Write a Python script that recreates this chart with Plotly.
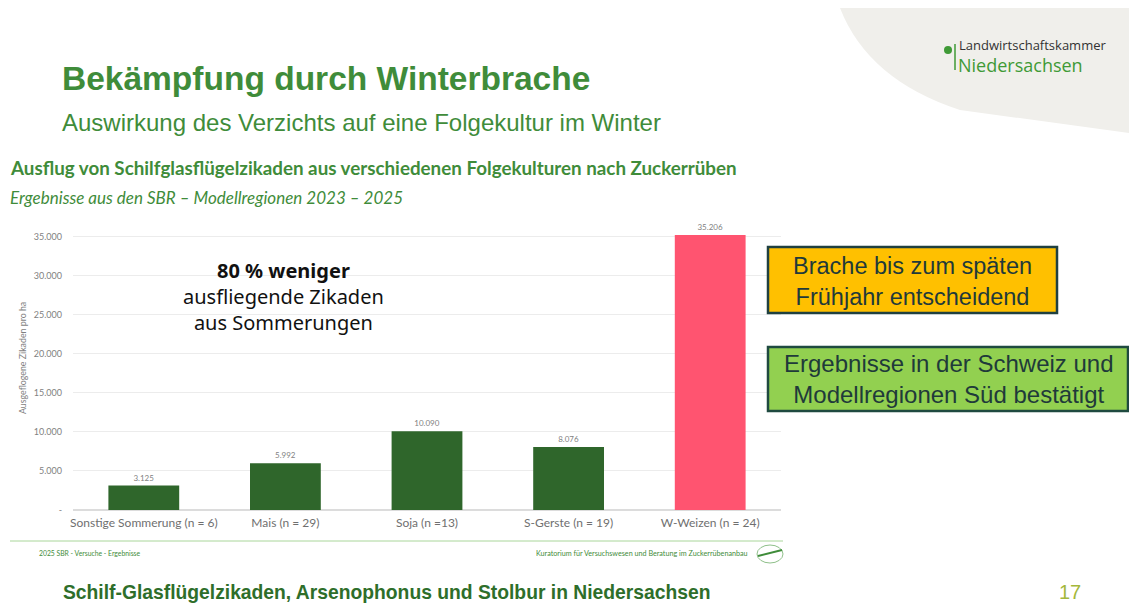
import plotly.graph_objects as go

# data
kulturen = ["Sonstige Sommerung (n = 6)", "Mais (n = 29)", "Soja (n =13)",
            "S-Gerste (n = 19)", "W-Weizen (n = 24)"]
zikaden = [3125, 5992, 10090, 8076, 35206]
bar_labels = ["3.125", "5.992", "10.090", "8.076", "35.206"]
bar_colors = ["#2f662b", "#2f662b", "#2f662b", "#2f662b", "#ff5470"]
y_ticks = [0, 5000, 10000, 15000, 20000, 25000, 30000, 35000]
y_ticktext = ["-", "5.000", "10.000", "15.000", "20.000", "25.000", "30.000", "35.000"]

W, H = 1129, 603
L, R, T, B = 73, 1129 - 781, 221, 603 - 510
PW, PH = W - L - R, H - T - B


def X(px):
    return (px - L) / PW


def Y(py):
    return (H - B - py) / PH


GREEN = "#3f8c3a"
GRAY = "#7f7f7f"

fig = go.Figure(go.Bar(
    x=list(range(len(kulturen))), y=zikaden,
    marker=dict(color=bar_colors, line=dict(width=0)),
    width=0.5,
    text=bar_labels, textposition="outside",
    textfont=dict(size=8, color=GRAY, family="Lato"),
    cliponaxis=False, hoverinfo="skip"))

fig.update_xaxes(
    range=[-0.5, 4.5], tickvals=list(range(len(kulturen))), ticktext=kulturen,
    tickfont=dict(size=12, color="#6f6f6f", family="Lato"),
    showgrid=False, zeroline=False, showline=False, ticks="",
    ticklabelstandoff=4)
fig.update_yaxes(
    range=[0, 37000], tickvals=y_ticks, ticktext=y_ticktext,
    tickfont=dict(size=9, color=GRAY, family="Lato"),
    showgrid=True, gridcolor="#ececec", gridwidth=1,
    zeroline=True, zerolinecolor="#dcdcdc", showline=False,
    ticklabelstandoff=10)

shapes = [
    # grey curved corner top right
    dict(type="path", xref="paper", yref="paper", layer="below",
         path=f"M {X(840)},{Y(8)} L {X(1129)},{Y(8)} L {X(1129)},{Y(133)} "
              f"L {X(960)},{Y(110)} Q {X(868)},{Y(80)} {X(840)},{Y(8)} Z",
         fillcolor="#f0efeb", line=dict(width=0)),
    # footer line
    dict(type="line", xref="paper", yref="paper", x0=X(10), x1=X(783),
         y0=Y(541), y1=Y(541), line=dict(color="#a9d69a", width=1)),
    # footer logo
    dict(type="circle", xref="paper", yref="paper", x0=X(757), x1=X(783),
         y0=Y(545), y1=Y(563), fillcolor="white", line=dict(color="#8fc08a", width=1)),
    dict(type="line", xref="paper", yref="paper", x0=X(758), x1=X(782),
         y0=Y(556), y1=Y(550), line=dict(color="#3f8c3a", width=2)),
    # boxes
    dict(type="rect", xref="paper", yref="paper", x0=X(768), x1=X(1057),
         y0=Y(247), y1=Y(313), fillcolor="#ffc000",
         line=dict(color="#1f4040", width=2.5)),
    dict(type="rect", xref="paper", yref="paper", x0=X(768), x1=X(1128),
         y0=Y(347), y1=Y(411), fillcolor="#92d050",
         line=dict(color="#1f4a40", width=2.5)),
    # logo dot
    dict(type="circle", xref="paper", yref="paper", x0=X(944), x1=X(952),
         y0=Y(46), y1=Y(54), fillcolor="#3f9a36", line=dict(width=0)),
    dict(type="line", xref="paper", yref="paper", x0=X(955), x1=X(955),
         y0=Y(44), y1=Y(70), line=dict(color="#3f9a36", width=1.5)),
]


def note(text, px, py, size, color, family="Liberation Sans", xanchor="left",
         align="left", angle=0):
    return dict(text=text, x=X(px), y=Y(py), xref="paper", yref="paper",
                xanchor=xanchor, yanchor="middle", align=align, showarrow=False,
                textangle=angle, font=dict(size=size, color=color, family=family))


annotations = [
    note("<b>Bekämpfung durch Winterbrache</b>", 60, 78, 33.5, GREEN),
    note("Auswirkung des Verzichts auf eine Folgekultur im Winter", 60, 123, 24, GREEN),
    note("<b>Ausflug von Schilfglasflügelzikaden aus verschiedenen Folgekulturen nach Zuckerrüben</b>",
         8, 167, 18.8, GREEN, family="Lato"),
    note("<i>Ergebnisse aus den SBR – Modellregionen 2023 – 2025</i>", 8, 197, 17,
         GREEN, family="Lato"),
    note("Ausgeflogene Zikaden pro ha", 22, 358, 8.8, GRAY, family="Lato",
         xanchor="center", angle=-90),
    note("<b>80 % weniger</b><br>ausfliegende Zikaden<br>aus Sommerungen", 283, 296,
         20, "#111111", family="Noto Sans", xanchor="center", align="center"),
    note("Brache bis zum späten<br>Frühjahr entscheidend", 912, 281, 23.5, "#1f3a3a",
         xanchor="center", align="center"),
    note("Ergebnisse in der Schweiz und<br>Modellregionen Süd bestätigt", 949, 379, 24,
         "#1f3a3a", xanchor="center", align="center"),
    note("2025 SBR - Versuche - Ergebnisse", 37, 553, 6.8, "#3f8c3a", family="Lato"),
    note("Kuratorium für Versuchswesen und Beratung im Zuckerrübenanbau", 750, 553, 7.2,
         "#3f8c3a", family="Lato", xanchor="right"),
    note("<b>Schilf-Glasflügelzikaden, Arsenophonus und Stolbur in Niedersachsen</b>",
         61, 592, 19.3, "#2e6e2a"),
    note("17", 1070, 592, 20, "#a4b83a", xanchor="center"),
    note("Landwirtschaftskammer", 957, 45, 13, "#333333", family="Open Sans"),
    note("Niedersachsen", 956, 65, 18, "#3f9a36", family="Open Sans"),
]

fig.update_layout(
    width=W, height=H,
    margin=dict(l=L, r=R, t=T, b=B),
    paper_bgcolor="white", plot_bgcolor="white",
    showlegend=False, bargap=0.5,
    shapes=shapes, annotations=annotations)

# drop the browser's default body margin so the figure fills the window
fig.write_html("out.html",
               config={"displayModeBar": False},
               post_script="document.body.style.margin='0px';"
                           "document.body.style.overflow='hidden';")
